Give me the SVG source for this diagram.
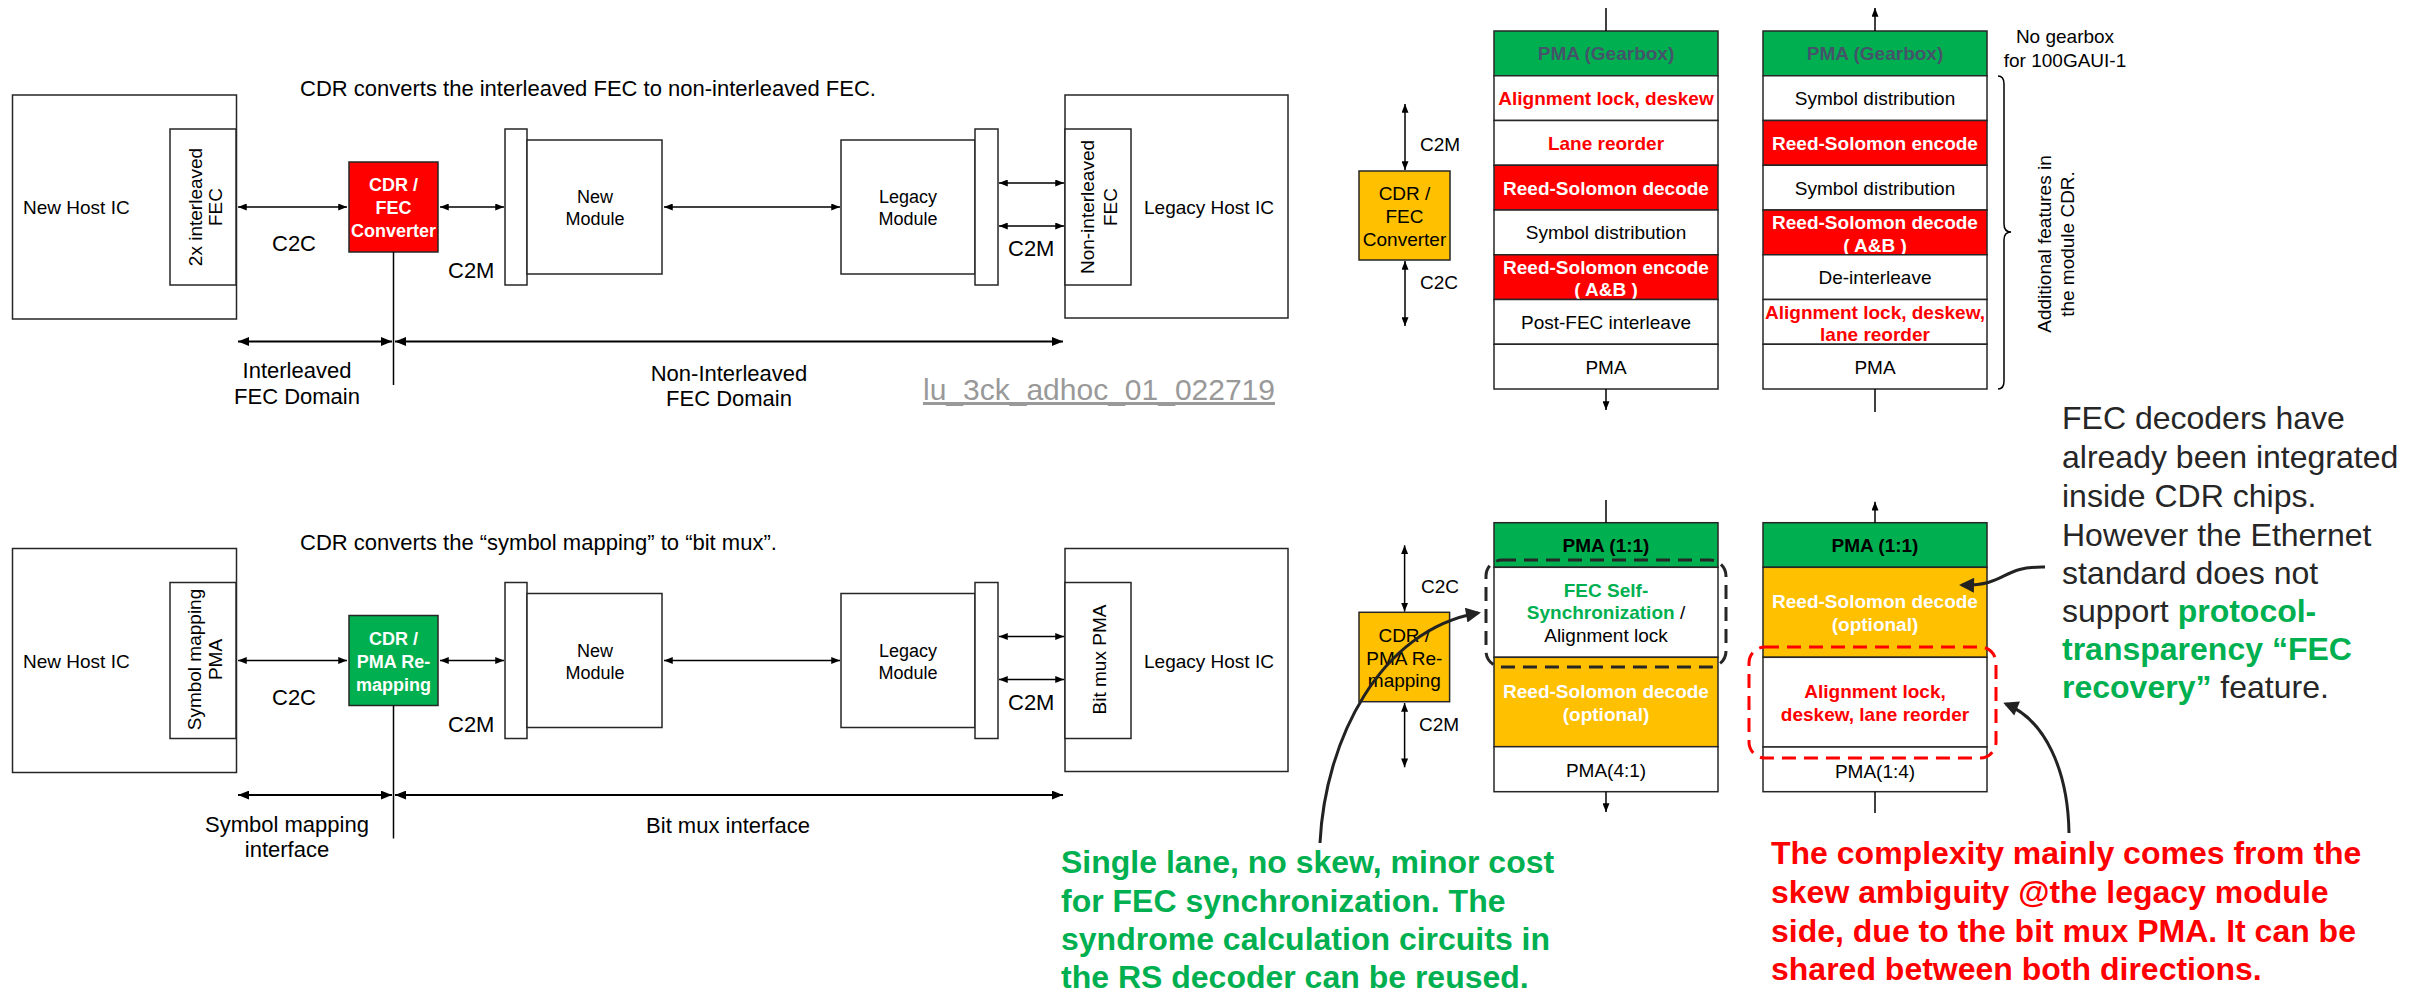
<svg xmlns="http://www.w3.org/2000/svg" width="2409" height="993" viewBox="0 0 2409 993">
<defs>
<marker id="ah" viewBox="0 0 10 8" refX="10" refY="4" markerWidth="9" markerHeight="7" markerUnits="userSpaceOnUse" orient="auto-start-reverse"><path d="M0,0L10,4L0,8z" fill="#000"/></marker>
<marker id="ahL" viewBox="0 0 10 8" refX="10" refY="4" markerWidth="11" markerHeight="9" markerUnits="userSpaceOnUse" orient="auto-start-reverse"><path d="M0,0L10,4L0,8z" fill="#000"/></marker>
<marker id="big" viewBox="0 0 10 10" refX="8" refY="5" markerWidth="17" markerHeight="15" markerUnits="userSpaceOnUse" orient="auto"><path d="M0,0L10,5L0,10z" fill="#222"/></marker>
</defs>
<style>
text{font-family:"Liberation Sans",Arial,sans-serif;fill:#000}
.box{fill:#fff;stroke:#262626;stroke-width:1.5}
.ln{stroke:#000;stroke-width:1.5;fill:none}
.dl{stroke:#000;stroke-width:2;fill:none}
.s18{font-size:18px}
.s19{font-size:19px}
.s22{font-size:22px}
.b{font-weight:bold}
.m{text-anchor:middle}
.w{fill:#fff}
.r{fill:#FF0000}
.g{fill:#00B050}
.big{font-size:32px}
.cur{stroke:#222;stroke-width:3;fill:none}
.red{fill:#FF0000;stroke:#262626;stroke-width:1.5}
.grn{fill:#00B050;stroke:#262626;stroke-width:1.5}
.org{fill:#FFC000;stroke:#262626;stroke-width:1.5}
</style>

<!-- ===== Top-left diagram ===== -->
<g id="top-left">
<text id="title1" class="s22" x="300" y="96">CDR converts the interleaved FEC to non-interleaved FEC.</text>
<g id="newhost1">
<rect class="box" x="12.5" y="95" width="224" height="224"/>
<text class="s19" x="23" y="214">New Host IC</text>
<rect class="box" x="170" y="129" width="66" height="156"/>
<text class="s19 m" transform="translate(202,207) rotate(-90)">2x interleaved</text>
<text class="s19 m" transform="translate(222,207) rotate(-90)">FEC</text>
</g>
<g id="cdr1">
<rect class="red" x="349" y="162" width="89" height="90"/>
<text class="s18 b m w" x="393.5" y="191">CDR /</text>
<text class="s18 b m w" x="393.5" y="214">FEC</text>
<text class="s18 b m w" x="393.5" y="237">Converter</text>
</g>
<g id="newmod1">
<rect class="box" x="505" y="129" width="22" height="156"/>
<rect class="box" x="527" y="140" width="135" height="134"/>
<text class="s18 m" x="595" y="203">New</text>
<text class="s18 m" x="595" y="225">Module</text>
</g>
<g id="legmod1">
<rect class="box" x="841" y="140" width="134" height="134"/>
<rect class="box" x="975" y="129" width="23" height="156"/>
<text class="s18 m" x="908" y="203">Legacy</text>
<text class="s18 m" x="908" y="225">Module</text>
</g>
<g id="leghost1">
<rect class="box" x="1065" y="95" width="223" height="223"/>
<rect class="box" x="1065" y="129" width="66" height="156"/>
<text class="s19 m" transform="translate(1094,207) rotate(-90)">Non-interleaved</text>
<text class="s19 m" transform="translate(1117,207) rotate(-90)">FEC</text>
<text class="s19" x="1144" y="214">Legacy Host IC</text>
</g>
<g id="conn1">
<line class="ln" x1="238" y1="207" x2="347" y2="207" marker-start="url(#ah)" marker-end="url(#ah)"/>
<line class="ln" x1="440" y1="207" x2="504" y2="207" marker-start="url(#ah)" marker-end="url(#ah)"/>
<line class="ln" x1="664" y1="207" x2="840" y2="207" marker-start="url(#ah)" marker-end="url(#ah)"/>
<line class="ln" x1="999" y1="183" x2="1064" y2="183" marker-start="url(#ah)" marker-end="url(#ah)"/>
<line class="ln" x1="999" y1="226" x2="1064" y2="226" marker-start="url(#ah)" marker-end="url(#ah)"/>
<line class="ln" x1="393.5" y1="252" x2="393.5" y2="385"/>
<line class="dl" x1="238" y1="341.5" x2="392" y2="341.5" marker-start="url(#ahL)" marker-end="url(#ahL)"/>
<line class="dl" x1="395" y1="341.5" x2="1063" y2="341.5" marker-start="url(#ahL)" marker-end="url(#ahL)"/>
</g>
<text class="s22" x="272" y="251">C2C</text>
<text class="s22" x="448" y="278">C2M</text>
<text class="s22" x="1008" y="256">C2M</text>
<text class="s22 m" x="297" y="378">Interleaved</text>
<text class="s22 m" x="297" y="404">FEC Domain</text>
<text class="s22 m" x="729" y="381">Non-Interleaved</text>
<text class="s22 m" x="729" y="406">FEC Domain</text>
<text x="923" y="400" style="font-size:30px;fill:#999999;text-decoration:underline">lu_3ck_adhoc_01_022719</text>
</g>

<!-- ===== Bottom-left diagram ===== -->
<g id="bottom-left" transform="translate(0,453.5)">
<text id="title2" class="s22" x="300" y="96">CDR converts the “symbol mapping” to “bit mux”.</text>
<g id="newhost2">
<rect class="box" x="12.5" y="95" width="224" height="224"/>
<text class="s19" x="23" y="214">New Host IC</text>
<rect class="box" x="170" y="129" width="66" height="156"/>
<text class="s19 m" transform="translate(201,206) rotate(-90)">Symbol mapping</text>
<text class="s19 m" transform="translate(222,206) rotate(-90)">PMA</text>
</g>
<g id="cdr2">
<rect class="grn" x="349" y="162" width="89" height="90"/>
<text class="s18 b m w" x="393.5" y="191">CDR /</text>
<text class="s18 b m w" x="393.5" y="214">PMA Re-</text>
<text class="s18 b m w" x="393.5" y="237">mapping</text>
</g>
<g id="newmod2">
<rect class="box" x="505" y="129" width="22" height="156"/>
<rect class="box" x="527" y="140" width="135" height="134"/>
<text class="s18 m" x="595" y="203">New</text>
<text class="s18 m" x="595" y="225">Module</text>
</g>
<g id="legmod2">
<rect class="box" x="841" y="140" width="134" height="134"/>
<rect class="box" x="975" y="129" width="23" height="156"/>
<text class="s18 m" x="908" y="203">Legacy</text>
<text class="s18 m" x="908" y="225">Module</text>
</g>
<g id="leghost2">
<rect class="box" x="1065" y="95" width="223" height="223"/>
<rect class="box" x="1065" y="129" width="66" height="156"/>
<text class="s19 m" transform="translate(1106,206) rotate(-90)">Bit mux PMA</text>
<text class="s19" x="1144" y="214">Legacy Host IC</text>
</g>
<g id="conn2">
<line class="ln" x1="238" y1="207" x2="347" y2="207" marker-start="url(#ah)" marker-end="url(#ah)"/>
<line class="ln" x1="440" y1="207" x2="504" y2="207" marker-start="url(#ah)" marker-end="url(#ah)"/>
<line class="ln" x1="664" y1="207" x2="840" y2="207" marker-start="url(#ah)" marker-end="url(#ah)"/>
<line class="ln" x1="999" y1="183" x2="1064" y2="183" marker-start="url(#ah)" marker-end="url(#ah)"/>
<line class="ln" x1="999" y1="226" x2="1064" y2="226" marker-start="url(#ah)" marker-end="url(#ah)"/>
<line class="ln" x1="393.5" y1="252" x2="393.5" y2="385"/>
<line class="dl" x1="238" y1="341.5" x2="392" y2="341.5" marker-start="url(#ahL)" marker-end="url(#ahL)"/>
<line class="dl" x1="395" y1="341.5" x2="1063" y2="341.5" marker-start="url(#ahL)" marker-end="url(#ahL)"/>
</g>
<text class="s22" x="272" y="251">C2C</text>
<text class="s22" x="448" y="278">C2M</text>
<text class="s22" x="1008" y="256">C2M</text>
<text class="s22 m" x="287" y="378">Symbol mapping</text>
<text class="s22 m" x="287" y="403.5">interface</text>
<text class="s22 m" x="728" y="379">Bit mux interface</text>
</g>

<!-- ===== Top-right ===== -->
<g id="cdr3">
<rect class="org" x="1359" y="171" width="91" height="89"/>
<text class="s19 m" x="1404.5" y="200">CDR /</text>
<text class="s19 m" x="1404.5" y="223">FEC</text>
<text class="s19 m" x="1404.5" y="246">Converter</text>
</g>
<text class="s19" x="1420" y="151">C2M</text>
<text class="s19" x="1420" y="289">C2C</text>

<g id="stack1">
<rect class="grn" x="1494" y="31" width="224" height="44.75"/>
<text class="s19 b m" x="1606" y="60.4" style="fill:#44546A">PMA (Gearbox)</text>
<rect class="box" x="1494" y="75.75" width="224" height="44.75"/>
<text class="s19 b m r" x="1606" y="105.1">Alignment lock, deskew</text>
<rect class="box" x="1494" y="120.5" width="224" height="44.75"/>
<text class="s19 b m r" x="1606" y="149.9">Lane reorder</text>
<rect class="red" x="1494" y="165.25" width="224" height="44.75"/>
<text class="s19 b m w" x="1606" y="194.6">Reed-Solomon decode</text>
<rect class="box" x="1494" y="210" width="224" height="44.75"/>
<text class="s19 m" x="1606" y="239.4">Symbol distribution</text>
<rect class="red" x="1494" y="254.75" width="224" height="44.75"/>
<text class="s19 b m w" x="1606" y="273.5">Reed-Solomon encode</text>
<text class="s19 b m w" x="1606" y="296">( A&amp;B )</text>
<rect class="box" x="1494" y="299.5" width="224" height="44.75"/>
<text class="s19 m" x="1606" y="328.9">Post-FEC interleave</text>
<rect class="box" x="1494" y="344.25" width="224" height="44.75"/>
<text class="s19 m" x="1606" y="373.6">PMA</text>
</g>

<g id="stack2">
<rect class="grn" x="1763" y="31" width="224" height="44.75"/>
<text class="s19 b m" x="1875" y="60.4" style="fill:#44546A">PMA (Gearbox)</text>
<rect class="box" x="1763" y="75.75" width="224" height="44.75"/>
<text class="s19 m" x="1875" y="105.1">Symbol distribution</text>
<rect class="red" x="1763" y="120.5" width="224" height="44.75"/>
<text class="s19 b m w" x="1875" y="149.9">Reed-Solomon encode</text>
<rect class="box" x="1763" y="165.25" width="224" height="44.75"/>
<text class="s19 m" x="1875" y="194.6">Symbol distribution</text>
<rect class="red" x="1763" y="210" width="224" height="44.75"/>
<text class="s19 b m w" x="1875" y="229">Reed-Solomon decode</text>
<text class="s19 b m w" x="1875" y="251.5">( A&amp;B )</text>
<rect class="box" x="1763" y="254.75" width="224" height="44.75"/>
<text class="s19 m" x="1875" y="284.1">De-interleave</text>
<rect class="box" x="1763" y="299.5" width="224" height="44.75"/>
<text class="s19 b m r" x="1875" y="318.5">Alignment lock, deskew,</text>
<text class="s19 b m r" x="1875" y="341">lane reorder</text>
<rect class="box" x="1763" y="344.25" width="224" height="44.75"/>
<text class="s19 m" x="1875" y="373.6">PMA</text>
</g>

<text class="s19 m" x="2065" y="43">No gearbox</text>
<text class="s19 m" x="2065" y="67">for 100GAUI-1</text>
<path class="ln" d="M1998,76 Q2004,76 2004,84 L2004,224 Q2004,232 2011,232 Q2004,232 2004,240 L2004,381 Q2004,389 1998,389"/>
<text class="s19 m" transform="translate(2051,244) rotate(-90)">Additional features in</text>
<text class="s19 m" transform="translate(2074,244) rotate(-90)">the module CDR.</text>

<!-- ===== Bottom-right ===== -->
<g id="cdr4">
<rect class="org" x="1359" y="612.3" width="90.6" height="89.4"/>
<text class="s19 m" x="1404.3" y="642.3">CDR /</text>
<text class="s19 m" x="1404.3" y="664.8">PMA Re-</text>
<text class="s19 m" x="1404.3" y="687.3">mapping</text>
</g>
<text class="s19" x="1421" y="592.7">C2C</text>
<text class="s19" x="1419" y="730.7">C2M</text>

<g id="stack3">
<rect class="grn" x="1494" y="522.7" width="224" height="44.6"/>
<text class="s19 b m" x="1606" y="551.7">PMA (1:1)</text>
<rect class="box" x="1494" y="567.3" width="224" height="90"/>
<text class="s19 b m g" x="1606" y="596.7">FEC Self-</text>
<text class="s19 m" x="1606" y="619.3"><tspan class="b g">Synchronization</tspan> /</text>
<text class="s19 m" x="1606" y="641.7">Alignment lock</text>
<rect class="org" x="1494" y="657.3" width="224" height="89.4"/>
<text class="s19 b m w" x="1606" y="698.3">Reed-Solomon decode</text>
<text class="s19 b m w" x="1606" y="721">(optional)</text>
<rect class="box" x="1494" y="746.7" width="224" height="45"/>
<text class="s19 m" x="1606" y="776.7">PMA(4:1)</text>
</g>

<g id="stack4">
<rect class="grn" x="1763" y="522.7" width="224" height="44.6"/>
<text class="s19 b m" x="1875" y="551.7">PMA (1:1)</text>
<rect class="org" x="1763" y="567.3" width="224" height="90"/>
<text class="s19 b m w" x="1875" y="607.7">Reed-Solomon decode</text>
<text class="s19 b m w" x="1875" y="630.7">(optional)</text>
<rect class="box" x="1763" y="657.3" width="224" height="89.7"/>
<text class="s19 b m r" x="1875" y="698.3">Alignment lock,</text>
<text class="s19 b m r" x="1875" y="720.7">deskew, lane reorder</text>
<rect class="box" x="1763" y="747" width="224" height="44.7"/>
<text class="s19 m" x="1875" y="778">PMA(1:4)</text>
</g>

<g id="conn-right">
<line class="ln" x1="1405" y1="104" x2="1405" y2="170" marker-start="url(#ah)" marker-end="url(#ah)"/>
<line class="ln" x1="1405" y1="261" x2="1405" y2="326" marker-start="url(#ah)" marker-end="url(#ah)"/>
<line class="ln" x1="1606" y1="8" x2="1606" y2="31"/>
<line class="ln" x1="1606" y1="389" x2="1606" y2="410" marker-end="url(#ah)"/>
<line class="ln" x1="1875" y1="31" x2="1875" y2="8" marker-end="url(#ah)"/>
<line class="ln" x1="1875" y1="389" x2="1875" y2="412"/>
<line class="ln" x1="1404.6" y1="545.3" x2="1404.6" y2="611.5" marker-start="url(#ah)" marker-end="url(#ah)"/>
<line class="ln" x1="1404.6" y1="703" x2="1404.6" y2="767.3" marker-start="url(#ah)" marker-end="url(#ah)"/>
<line class="ln" x1="1606" y1="500" x2="1606" y2="522.7"/>
<line class="ln" x1="1606" y1="791.7" x2="1606" y2="812" marker-end="url(#ah)"/>
<line class="ln" x1="1875" y1="522.7" x2="1875" y2="501.7" marker-end="url(#ah)"/>
<line class="ln" x1="1875" y1="791.7" x2="1875" y2="813"/>
<rect x="1486" y="560" width="240" height="107" rx="16" fill="none" stroke="#262626" stroke-width="3" stroke-dasharray="14 8"/>
<rect x="1749" y="647" width="247" height="111" rx="16" fill="none" stroke="#FF0000" stroke-width="3" stroke-dasharray="14 8"/>
<path class="cur" d="M1320,843 C1325,740 1380,630 1478,613" marker-end="url(#big)"/>
<path class="cur" d="M2045,567 C2000,566 2008,586 1962,585" marker-end="url(#big)"/>
<path class="cur" d="M2069,833 C2068,770 2045,720 2006,704" marker-end="url(#big)"/>
</g>

<g id="note-fec" class="big" style="fill:#262626">
<text class="big" x="2062" y="429.3" style="fill:#262626">FEC decoders have</text>
<text class="big" x="2062" y="468.3" style="fill:#262626">already been integrated</text>
<text class="big" x="2062" y="506.7" style="fill:#262626">inside CDR chips.</text>
<text class="big" x="2062" y="545.7" style="fill:#262626">However the Ethernet</text>
<text class="big" x="2062" y="584" style="fill:#262626">standard does not</text>
<text class="big" x="2062" y="622.3" style="fill:#262626">support <tspan class="b g">protocol-</tspan></text>
<text class="big b g" x="2062" y="660">transparency “FEC</text>
<text class="big" x="2062" y="698.3" style="fill:#262626"><tspan class="b g">recovery”</tspan> feature.</text>
</g>

<g id="note-green">
<text class="big b g" x="1061" y="873.3">Single lane, no skew, minor cost</text>
<text class="big b g" x="1061" y="911.7">for FEC synchronization. The</text>
<text class="big b g" x="1061" y="950">syndrome calculation circuits in</text>
<text class="big b g" x="1061" y="988.3">the RS decoder can be reused.</text>
</g>

<g id="note-red">
<text class="big b r" x="1771" y="864">The complexity mainly comes from the</text>
<text class="big b r" x="1771" y="903.3">skew ambiguity @the legacy module</text>
<text class="big b r" x="1771" y="941.7">side, due to the bit mux PMA. It can be</text>
<text class="big b r" x="1771" y="980">shared between both directions.</text>
</g>
</svg>
